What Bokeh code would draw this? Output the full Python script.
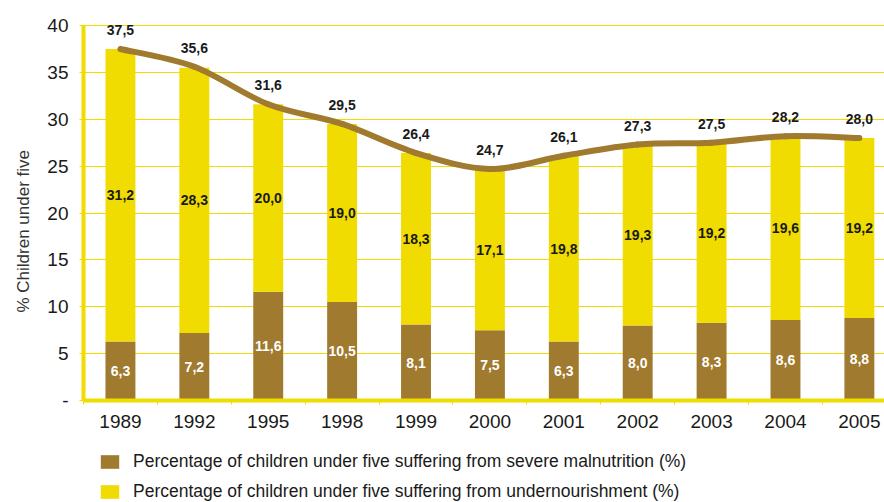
import numpy as np
from bokeh.plotting import figure
from bokeh.layouts import column
from bokeh.models import Range1d, FixedTicker, ColumnDataSource, Legend, LegendItem, Title
from bokeh.core.properties import value
from bokeh.embed import file_html
from bokeh.resources import INLINE

# Survey years and values (%)
years = ["1989", "1992", "1995", "1998", "1999", "2000", "2001", "2002", "2003", "2004", "2005"]
severe = [6.3, 7.2, 11.6, 10.5, 8.1, 7.5, 6.3, 8.0, 8.3, 8.6, 8.8]
undernourished = [31.2, 28.3, 20.0, 19.0, 18.3, 17.1, 19.8, 19.3, 19.2, 19.6, 19.2]
total = [37.5, 35.6, 31.6, 29.5, 26.4, 24.7, 26.1, 27.3, 27.5, 28.2, 28.0]

y_ticks = [0, 5, 10, 15, 20, 25, 30, 35, 40]
y_tick_labels = ["-", "5", "10", "15", "20", "25", "30", "35", "40"]

legend_labels = [
    "Percentage of children under five suffering from severe malnutrition (%)",
    "Percentage of children under five suffering from undernourishment (%)",
]

BROWN = "#A07A2E"
YELLOW = "#F0DC00"
TEXT = "#1a1a1a"
FONT = "Liberation Sans"


def fmt(v):
    return f"{v:.1f}".replace(".", ",")


x = np.arange(len(years)) + 0.5
sev = np.array(severe)
und = np.array(undernourished)
tot = np.array(total)

src = ColumnDataSource(dict(
    x=x,
    severe=sev,
    stack_top=sev + und,
    sev_mid=sev / 2,
    und_mid=sev + und / 2,
    total=tot,
    sev_lbl=[fmt(v) for v in severe],
    und_lbl=[fmt(v) for v in undernourished],
    tot_lbl=[fmt(v) for v in total],
))

p = figure(
    width=884, height=440,
    x_range=Range1d(0, 10.84), y_range=Range1d(0, 42.67),
    output_backend="svg", toolbar_location=None,
    min_border_left=82, min_border_right=0, min_border_top=0, min_border_bottom=40,
    outline_line_color=None, background_fill_color="white",
)

bar_sev = dict(x="x", bottom=0, top="severe", width=0.405, source=src,
               fill_color=BROWN, line_color=None)
bar_und = dict(x="x", bottom="severe", top="stack_top", width=0.405, source=src,
               fill_color=YELLOW, line_color=None)
p.vbar(**bar_sev)
p.vbar(**bar_und)

# smoothed line through the totals (Catmull-Rom converted to cubic Bezier)
px = np.concatenate([[x[0]], x, [x[-1]]])
py = np.concatenate([[tot[0]], tot, [tot[-1]]])
n = len(x)
bz = ColumnDataSource(dict(
    x0=px[1:n], y0=py[1:n],
    x1=px[2:n + 1], y1=py[2:n + 1],
    cx0=px[1:n] + (px[2:n + 1] - px[0:n - 1]) / 6,
    cy0=py[1:n] + (py[2:n + 1] - py[0:n - 1]) / 6,
    cx1=px[2:n + 1] - (px[3:n + 2] - px[1:n]) / 6,
    cy1=py[2:n + 1] - (py[3:n + 2] - py[1:n]) / 6,
))
p.bezier(x0="x0", y0="y0", x1="x1", y1="y1", cx0="cx0", cy0="cy0", cx1="cx1", cy1="cy1",
         source=bz, line_color=BROWN, line_width=6, line_cap="round")

p.text(x="x", y="sev_mid", text="sev_lbl", source=src, text_color="white",
       text_font=value(FONT), text_font_style="bold", text_font_size="14px",
       text_align="center", text_baseline="middle")
p.text(x="x", y="und_mid", text="und_lbl", source=src, text_color=TEXT,
       text_font=value(FONT), text_font_style="bold", text_font_size="14px",
       text_align="center", text_baseline="middle")
p.text(x="x", y="total", text="tot_lbl", source=src, text_color=TEXT, y_offset=-19,
       text_font=value(FONT), text_font_style="bold", text_font_size="14px",
       text_align="center", text_baseline="middle")

# axes
p.xgrid.visible = False
p.ygrid.grid_line_color = YELLOW
p.ygrid.grid_line_width = 1

xa = p.xaxis[0]
xa.ticker = FixedTicker(ticks=list(x), minor_ticks=list(range(len(years) + 1)))
xa.major_label_overrides = {float(xv): yr for xv, yr in zip(x, years)}
xa.axis_line_color = YELLOW
xa.axis_line_width = 4
xa.major_tick_out = 0
xa.major_tick_in = 0
xa.minor_tick_out = 4
xa.minor_tick_in = 0
xa.minor_tick_line_color = YELLOW
xa.minor_tick_line_width = 1
xa.major_label_text_font = FONT
xa.major_label_text_font_size = "19px"
xa.major_label_text_color = TEXT
xa.major_label_standoff = 10

ya = p.yaxis[0]
ya.ticker = FixedTicker(ticks=y_ticks)
ya.major_label_overrides = {t: l for t, l in zip(y_ticks, y_tick_labels)}
ya.bounds = (0, 40)
ya.axis_line_color = YELLOW
ya.axis_line_width = 4
ya.major_tick_out = 4
ya.major_tick_in = 0
ya.major_tick_line_color = YELLOW
ya.minor_tick_line_color = None
ya.major_label_text_font = FONT
ya.major_label_text_font_size = "19px"
ya.major_label_text_color = TEXT
ya.major_label_standoff = 11

# y-axis caption, starting 88 px above the frame bottom
p.add_layout(Title(text="% Children under five", align="left", offset=88, standoff=23,
                   text_font=FONT, text_font_size="17px", text_font_style="normal",
                   text_color="#333333"), "left")

# legend strip under the chart; its bars share the series source but sit well outside
# this strip's visible range, so only the legend keys show
pl = figure(
    width=884, height=62, x_range=Range1d(-30, -29), y_range=Range1d(-30, -29),
    x_axis_type=None, y_axis_type=None,
    output_backend="svg", toolbar_location=None, min_border=0,
    outline_line_color=None, background_fill_color="white",
)
k_sev = pl.vbar(**bar_sev)
k_und = pl.vbar(**bar_und)
legend = Legend(
    items=[LegendItem(label=legend_labels[0], renderers=[k_sev]),
           LegendItem(label=legend_labels[1], renderers=[k_und])],
    location=(15, 0), orientation="vertical",
    glyph_width=23, glyph_height=17, label_height=17, label_standoff=12,
    spacing=9, padding=0, margin=0,
    label_text_font=FONT, label_text_font_size="17.5px", label_text_color=TEXT,
    border_line_color=None, background_fill_alpha=0,
)
pl.add_layout(legend, "center")

open("out.html", "w").write(file_html(column(p, pl, spacing=0), INLINE))
